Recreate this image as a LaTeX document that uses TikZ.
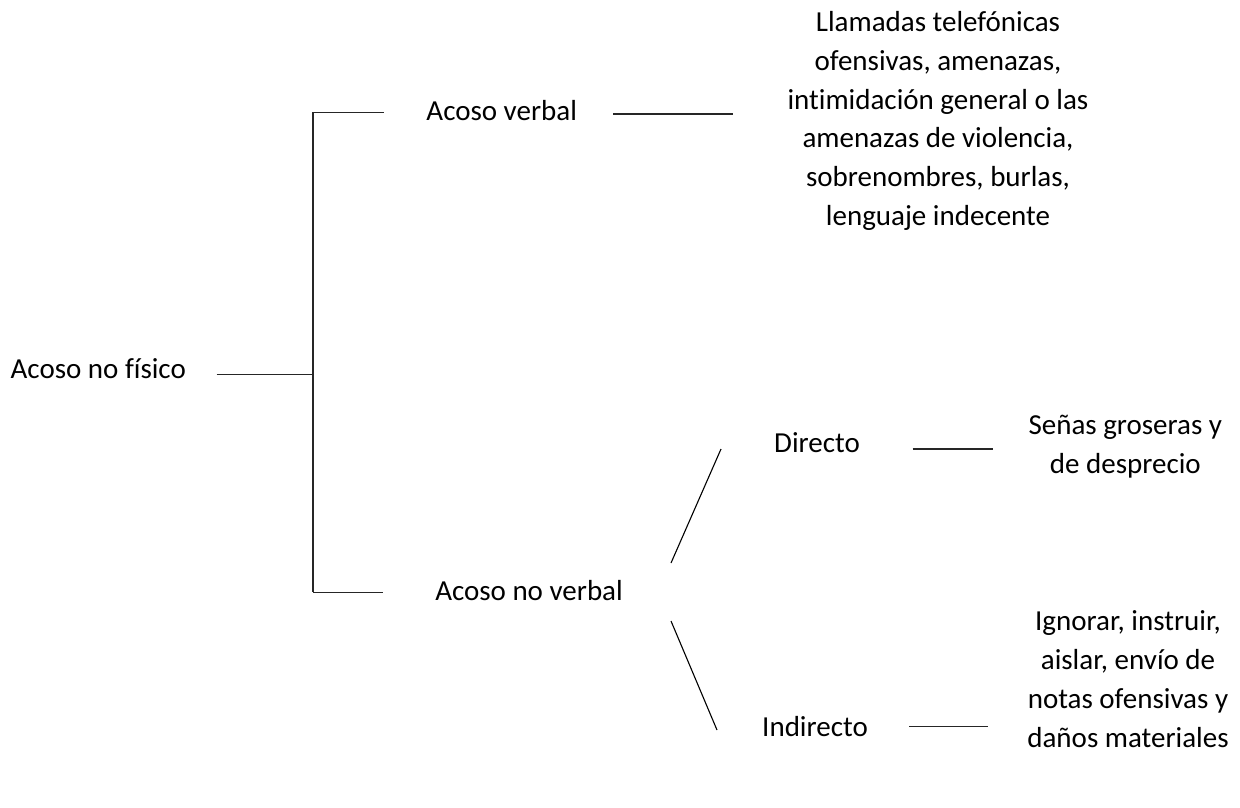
\documentclass[tikz,border=0pt]{standalone}
\usepackage{fontspec}
\setmainfont[Ligatures=NoCommon]{Carlito}
\begin{document}
\begin{tikzpicture}[x=1pt,y=-1pt,
  lbl/.style={inner sep=0pt, outer sep=0pt, anchor=base, align=center,
    font=\fontsize{29pt}{38.7pt}\selectfont},
  conn/.style={draw=black!85, line width=1.3pt},
  diag/.style={draw=black, line width=1.1pt}]
\path[use as bounding box, fill=white] (0,0) rectangle (1240,807);

% text nodes (base anchor = baseline of the last line)
\node[lbl, anchor=base west] (fisico) at (10.7,378) {Acoso no físico};
\node[lbl] (verbal) at (501.7,120) {Acoso verbal};
\node[lbl] (noverbal) at (529,600) {Acoso no verbal};
\node[lbl] (llamadas) at (938,225.2) {Llamadas telefónicas\\ofensivas, amenazas,\\intimidación general o las\\amenazas de violencia,\\sobrenombres, burlas,\\lenguaje indecente};
\node[lbl] (directo) at (817,452) {Directo};
\node[lbl] (indirecto) at (815,736) {Indirecto};
\node[lbl] (senas) at (1125.3,473) {Señas groseras y\\de desprecio};
\node[lbl] (ignorar) at (1128,747) {Ignorar, instruir,\\aislar, envío de\\notas ofensivas y\\daños materiales};

% connector end points
\coordinate (fisR) at (216.7,374.3);
\coordinate (spineM) at (313,374.3);
\coordinate (spineT) at (313,112.3);
\coordinate (spineB) at (313,592.3);
\coordinate (verbL) at (384.3,112.3);
\coordinate (noverbL) at (382.7,592.3);
\coordinate (verbR) at (613.3,114);
\coordinate (llamL) at (732.7,114);
\coordinate (upA) at (671,563);
\coordinate (upB) at (721,449);
\coordinate (dnA) at (671,621);
\coordinate (dnB) at (717,730);
\coordinate (dirR) at (912.7,449);
\coordinate (senL) at (992.7,449);
\coordinate (indR) at (909,726.7);
\coordinate (ignL) at (988.3,726.7);

% connectors
\draw[conn] (fisR) -- (spineM);
\draw[conn] (spineT) -- (spineB);
\draw[conn] (spineT) -- (verbL);
\draw[conn] (spineB) -- (noverbL);
\draw[conn] (verbR) -- (llamL);
\draw[diag] (upA) -- (upB);
\draw[diag] (dnA) -- (dnB);
\draw[conn] (dirR) -- (senL);
\draw[conn] (indR) -- (ignL);
\end{tikzpicture}
\end{document}
